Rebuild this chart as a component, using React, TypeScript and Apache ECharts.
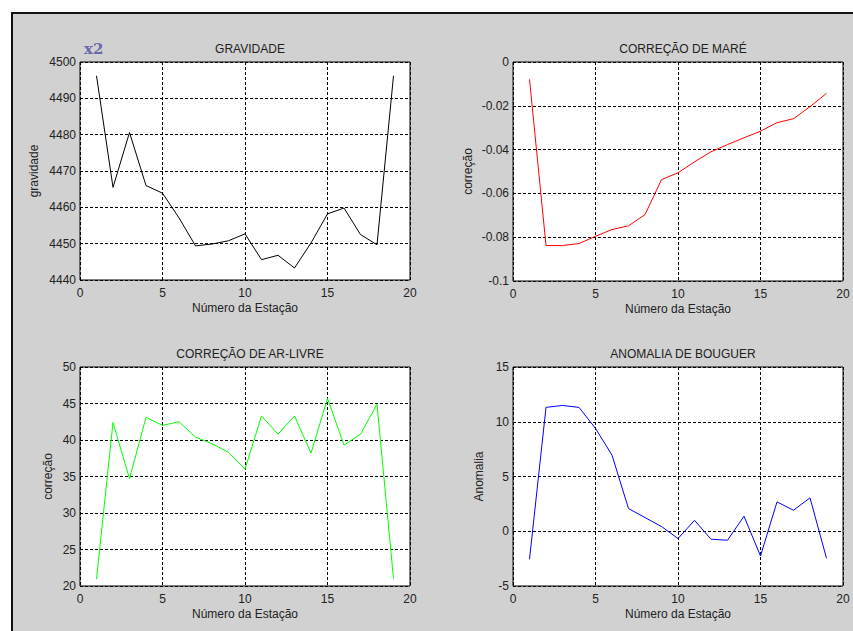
import React, { useEffect, useRef } from "react";
import * as echarts from "echarts";

const stations = [1, 2, 3, 4, 5, 6, 7, 8, 9, 10, 11, 12, 13, 14, 15, 16, 17, 18, 19];
const gravidade = [4496.2, 4465.5, 4480.6, 4466.0, 4463.9, 4457.1, 4449.4, 4449.9, 4450.8, 4452.7, 4445.6, 4446.8, 4443.3, 4450.2, 4458.2, 4459.8, 4452.5, 4449.7, 4496.2];
const correcaoMare = [-0.0079, -0.0838, -0.0838, -0.0829, -0.0796, -0.0765, -0.0748, -0.0697, -0.0537, -0.0506, -0.0456, -0.041, -0.0377, -0.0346, -0.0316, -0.0277, -0.0259, -0.0204, -0.0143];
const correcaoAr = [20.96, 42.4, 34.7, 43.1, 42.0, 42.5, 40.4, 39.5, 38.3, 36.0, 43.3, 40.8, 43.3, 38.2, 45.7, 39.3, 40.8, 44.9, 21.0];
const anomalia = [-2.56, 11.31, 11.49, 11.31, 9.39, 6.95, 2.07, 1.25, 0.43, -0.67, 1.0, -0.73, -0.82, 1.37, -2.26, 2.68, 1.92, 3.05, -2.47];

const titles = ["GRAVIDADE", "CORREÇÃO DE MARÉ", "CORREÇÃO DE AR-LIVRE", "ANOMALIA DE BOUGUER"];
const yNames = ["gravidade", "correção", "correção", "Anomalia"];
const xName = "Número da Estação";
const yMins = [4440, -0.1, 20, -5];
const yMaxs = [4500, 0, 50, 15];
const yIntervals = [10, 0.02, 5, 5];
const xTicks = { min: 0, max: 20, interval: 5 };
const colors = ["#000000", "#ff0000", "#00ff00", "#0000ff"];
const seriesData = [gravidade, correcaoMare, correcaoAr, anomalia];

const grids = [
  { left: 80, top: 62, width: 330, height: 218 },
  { left: 513, top: 62, width: 330, height: 219 },
  { left: 80, top: 367, width: 330, height: 219 },
  { left: 513, top: 367, width: 330, height: 219 },
];
const yNameGaps = [40, 39, 26, 28];

export default function App() {
  const ref = useRef<HTMLDivElement>(null);
  useEffect(() => {
    if (!ref.current) return;
    const chart = echarts.init(ref.current, null, { renderer: "svg" });
    const font = "Arial, 'Liberation Sans', sans-serif";
    const textColor = "#222";
    const gridLine = { show: true, lineStyle: { color: "#000", width: 1, type: [3, 2] as any } };
    const option: any = {
      animation: false,
      backgroundColor: "#ffffff",
      graphic: [
        {
          type: "rect",
          shape: { x: 12, y: 13, width: 860, height: 640 },
          style: { fill: "#d1d1d1", stroke: "#111", lineWidth: 2 },
          z: -10,
          silent: true,
        },
        {
          type: "text",
          x: 84,
          y: 41,
          style: {
            text: "x2",
            font: "bold 15px 'DejaVu Serif', 'Liberation Serif', serif",
            fill: "#6a6aa8",
          },
        },
      ],
      title: grids.map((g, i) => ({
        text: titles[i],
        left: g.left + g.width / 2,
        top: g.top - 24,
        textAlign: "center",
        textStyle: { fontSize: 12, fontWeight: "normal", color: textColor, fontFamily: font },
      })),
      grid: grids.map((g) => ({
        ...g,
        show: true,
        backgroundColor: "#ffffff",
        borderColor: "#000",
        borderWidth: 1,
        containLabel: false,
      })),
      xAxis: grids.map((g, i) => ({
        type: "value",
        gridIndex: i,
        min: xTicks.min,
        max: xTicks.max,
        interval: xTicks.interval,
        name: xName,
        nameLocation: "middle",
        nameGap: 22,
        nameTextStyle: { fontSize: 12, color: textColor, fontFamily: font },
        axisLine: { show: false },
        axisTick: { show: false },
        axisLabel: { fontSize: 12, color: textColor, fontFamily: font, margin: 7 },
        splitLine: gridLine,
      })),
      yAxis: grids.map((g, i) => ({
        type: "value",
        gridIndex: i,
        min: yMins[i],
        max: yMaxs[i],
        interval: yIntervals[i],
        name: yNames[i],
        nameLocation: "middle",
        nameGap: yNameGaps[i],
        nameRotate: 90,
        nameTextStyle: { fontSize: 12, color: textColor, fontFamily: font },
        axisLine: { show: false },
        axisTick: { show: false },
        axisLabel: {
          fontSize: 12,
          color: textColor,
          fontFamily: font,
          margin: 4,
          formatter: (v: number) => {
            const r = Math.round(v * 1000) / 1000;
            return String(r);
          },
        },
        splitLine: gridLine,
      })),
      series: seriesData.map((d, i) => ({
        type: "line",
        xAxisIndex: i,
        yAxisIndex: i,
        data: stations.map((s, j) => [s, d[j]]),
        showSymbol: false,
        symbol: "none",
        lineStyle: { color: colors[i], width: 1 },
        z: 5,
      })),
    };
    chart.setOption(option);
    return () => chart.dispose();
  }, []);
  return (
    <div
      ref={ref}
      style={{ position: "fixed", left: 0, top: 0, width: 853, height: 631 }}
    />
  );
}
